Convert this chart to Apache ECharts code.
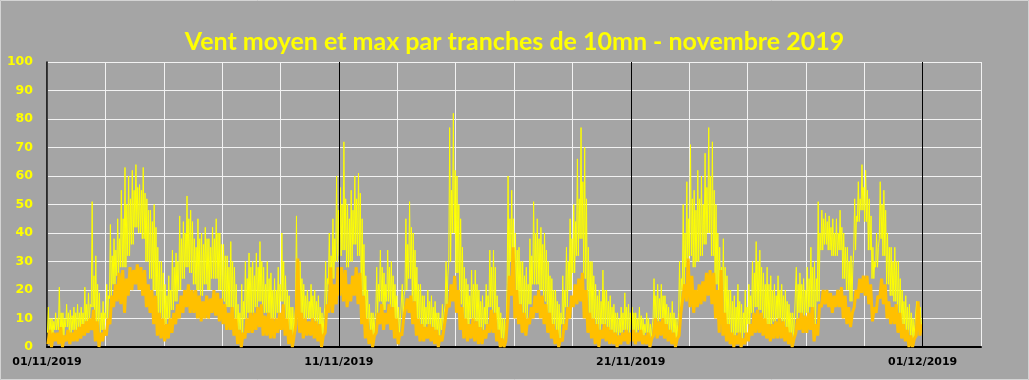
<!DOCTYPE html>
<html><head><meta charset="utf-8">
<script src="https://cdn.jsdelivr.net/npm/echarts@6/dist/echarts.min.js"></script>
<style>html,body{margin:0;padding:0;background:#a5a5a5}#c{width:1029px;height:380px}</style>
</head><body><div id="c"></div>
<script>
const titleText = 'Vent moyen et max par tranches de 10mn - novembre 2019';
const dateLabels = ['01/11/2019', '11/11/2019', '21/11/2019', '01/12/2019'];
const labelDays = [0, 10, 20, 30];
const dividerDays = [10, 20, 30];
// 3-hour windows (8 per day)
// max gust: spike top, usual band top, band bottom
const maxHi = [
14,10,12,21,12,15,13,14,
15,14,21,19,51,32,19,16,
22,43,38,45,55,63,60,62,
64,57,63,52,48,50,35,30,
22,25,34,33,46,44,53,48,
38,45,40,42,38,42,45,40,
36,32,37,28,15,22,30,33,
30,33,37,28,30,26,24,28,
40,25,18,14,46,30,22,20,
22,20,18,12,30,40,45,60,
56,72,50,55,60,61,45,25,
15,12,28,34,26,34,30,22,
14,22,45,51,40,28,22,18,
20,18,16,12,15,30,77,82,
60,45,28,22,27,27,20,18,
22,34,34,18,12,10,60,55,
40,35,30,28,38,51,45,42,
40,30,24,20,15,25,35,45,
50,66,77,70,35,30,22,20,
27,20,18,15,12,14,19,15,
14,12,14,10,12,8,24,22,
22,18,14,16,10,30,50,58,
71,55,62,60,68,77,72,50,
35,38,25,20,18,22,15,20,
22,30,37,34,26,28,25,22,
25,22,20,15,12,28,26,24,
28,35,30,51,48,47,46,45,
45,48,40,35,32,52,58,64,
62,52,35,40,58,55,40,35,
35,30,20,18,15,10,16,14];
const maxTop = [
10,9,10,12,10,12,11,12,
12,12,15,15,25,22,12,12,
18,32,34,38,45,50,52,55,
56,55,54,48,44,42,30,26,
18,20,28,30,38,40,45,44,
35,38,36,38,35,38,40,36,
32,28,30,22,12,16,24,28,
25,28,30,22,24,20,20,22,
30,20,14,10,28,24,18,16,
18,16,14,10,24,32,38,48,
50,52,45,48,52,54,36,20,
12,10,22,28,22,28,25,18,
10,18,36,42,34,22,18,14,
16,14,12,10,12,25,55,62,
50,35,24,18,22,22,16,14,
18,28,28,14,10,8,45,45,
34,30,25,22,32,40,38,36,
34,25,20,16,12,20,30,38,
44,52,58,52,30,25,18,16,
20,16,14,12,10,12,14,12,
12,10,11,8,10,7,18,17,
18,15,12,12,8,24,40,45,
52,48,52,50,56,60,55,40,
28,28,20,16,14,16,12,14,
18,26,30,28,22,22,20,18,
20,18,16,12,10,22,22,20,
24,28,24,40,45,44,42,40,
40,42,35,30,28,46,52,56,
55,46,30,35,50,48,35,30,
30,24,16,14,12,8,12,10];
const maxLo = [
5,4,6,6,4,7,5,6,
6,7,8,9,14,8,5,6,
10,17,22,25,28,28,32,36,
42,40,38,30,24,20,12,10,
8,10,13,16,20,24,28,26,
22,20,18,22,20,24,24,20,
16,14,14,10,6,5,10,12,
12,14,16,12,12,10,10,12,
16,10,6,4,14,12,10,10,
10,9,8,4,14,22,24,30,
32,34,28,30,36,32,18,10,
6,4,12,16,13,16,14,10,
5,10,20,24,16,10,8,7,
8,7,6,4,6,15,30,40,
26,15,10,8,10,9,7,6,
8,14,12,6,3,2,22,30,
20,15,12,10,15,22,22,20,
16,12,8,6,3,8,14,20,
26,32,38,24,12,10,8,6,
8,7,6,5,4,5,6,5,
6,5,6,4,5,3,10,9,
10,8,6,5,3,12,20,28,
32,28,30,32,36,40,32,22,
14,12,8,5,4,5,3,5,
8,12,14,13,10,8,8,9,
10,9,7,5,3,10,12,11,
12,14,8,16,34,36,34,32,
32,34,24,20,16,34,44,48,
44,34,24,28,38,32,22,18,
16,12,8,6,4,3,8,6];
// mean wind: high / low of each window
const meanHi = [
6,5,5,7,4,6,5,6,
7,8,9,10,13,9,5,6,
10,18,22,26,27,24,28,27,
29,28,27,22,20,18,12,10,
8,10,12,15,18,20,22,20,
20,18,16,18,17,20,19,17,
15,12,14,10,6,5,10,12,
12,14,15,11,12,10,10,12,
15,10,6,4,31,12,10,9,
10,9,8,4,15,28,22,28,
28,27,22,25,28,26,18,10,
6,4,12,15,12,15,14,10,
5,10,17,18,16,10,8,7,
8,7,6,4,6,15,22,25,
20,14,10,8,10,9,7,6,
8,13,12,6,3,2,25,35,
20,15,12,10,14,18,20,18,
15,12,8,6,3,8,14,18,
22,24,26,20,12,10,8,6,
8,7,6,5,4,5,6,5,
6,5,6,4,5,3,10,9,
10,8,6,5,3,12,22,31,
25,20,22,23,26,27,26,20,
27,12,8,5,4,5,3,5,
8,12,13,12,10,8,8,9,
10,9,7,5,3,10,12,11,
12,14,8,15,20,20,19,18,
20,21,18,14,12,20,24,25,
25,22,14,18,24,22,16,14,
15,12,8,6,4,3,16,8];
const meanLo = [
1,0,2,1,0,2,1,2,
2,3,4,5,6,2,0,2,
4,8,14,16,15,12,18,20,
22,20,18,14,12,8,4,3,
2,3,5,8,10,12,14,12,
12,10,9,10,10,12,11,9,
8,6,6,4,1,0,3,5,
5,6,7,4,4,3,3,5,
6,4,1,0,8,5,3,4,
4,3,2,0,5,12,12,15,
18,16,14,16,18,15,8,3,
1,0,5,8,6,8,6,3,
1,4,10,12,8,4,2,2,
3,2,1,0,2,6,14,16,
12,6,3,2,3,2,1,1,
3,5,5,2,0,0,10,18,
10,8,5,4,8,10,12,10,
8,5,3,1,0,2,6,10,
14,15,16,10,5,3,1,0,
3,2,1,1,0,1,2,1,
2,1,2,1,1,0,4,3,
4,3,2,1,0,4,12,16,
14,12,14,15,16,18,15,10,
5,4,2,1,0,1,0,1,
2,4,5,5,4,3,2,3,
3,3,2,1,0,5,6,5,
5,6,2,4,14,15,14,12,
14,14,10,8,7,14,17,19,
18,15,9,12,17,15,10,8,
8,5,3,2,0,0,4,4];

const WIN = 0.125; // window length in days
function maxPoints() {
  const out = [];
  for (let i = 0; i < maxLo.length; i++) {
    const t = i * WIN;
    out.push([t + WIN * 0.125, maxLo[i]]);
    out.push([t + WIN * 0.375, maxHi[i]]);
    out.push([t + WIN * 0.625, maxLo[i]]);
    out.push([t + WIN * 0.875, maxTop[i]]);
  }
  return out;
}
function meanPoints() {
  const out = [];
  for (let i = 0; i < meanLo.length; i++) {
    const t = i * WIN;
    out.push([t + WIN * 0.25, meanLo[i]]);
    out.push([t + WIN * 0.75, meanHi[i]]);
  }
  return out;
}

const chart = echarts.init(document.getElementById('c'), null, {renderer: 'canvas'});
chart.setOption({
  backgroundColor: '#a5a5a5',
  animation: false,
  title: {
    text: titleText, left: 'center', top: 29, padding: 0,
    textStyle: {color: '#ffff00', fontSize: 25, fontWeight: 'bold', fontFamily: 'Lato'}
  },
  grid: {left: 47, right: 48, top: 62, bottom: 33},
  xAxis: {
    type: 'value', min: 0, max: 32, interval: 2,
    axisLine: {show: true, lineStyle: {color: '#000', width: 2}},
    axisTick: {show: false},
    splitLine: {show: true, lineStyle: {color: '#f2f2f2', width: 1}},
    axisLabel: {
      color: '#000', fontWeight: 'bold', fontSize: 11, fontFamily: 'DejaVu Sans', margin: 10,
      formatter: v => { const k = labelDays.indexOf(v); return k >= 0 ? dateLabels[k] : ''; }
    }
  },
  yAxis: {
    type: 'value', min: 0, max: 100, interval: 10,
    axisLine: {show: true, lineStyle: {color: '#000', width: 1.5}},
    axisTick: {show: false},
    splitLine: {show: true, lineStyle: {color: '#f2f2f2', width: 1}},
    axisLabel: {color: '#ffff00', fontWeight: 'bold', fontSize: 12.5, fontFamily: 'DejaVu Sans', margin: 14}
  },
  series: [
    {
      type: 'line', data: [], z: 1, silent: true,
      markLine: {
        silent: true, symbol: 'none', label: {show: false},
        lineStyle: {color: '#000', width: 1, type: 'solid'},
        data: dividerDays.map(d => ({xAxis: d}))
      }
    },
    {
      name: 'max', type: 'line', data: maxPoints(), showSymbol: false, symbol: 'none',
      lineStyle: {color: '#ffff00', width: 1}, z: 3
    },
    {
      name: 'moyen', type: 'line', data: meanPoints(), showSymbol: false, symbol: 'none',
      lineStyle: {color: '#ffc000', width: 3}, z: 4
    }
  ],
  graphic: [{
    type: 'rect', shape: {x: 0.5, y: 0.5, width: 1028, height: 379},
    style: {fill: 'none', stroke: '#d4d4d4', lineWidth: 1}, silent: true
  }]
});
</script></body></html>
